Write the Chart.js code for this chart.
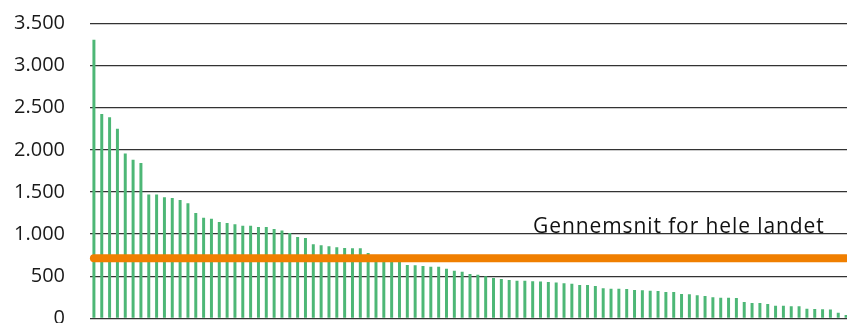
<!DOCTYPE html>
<html>
<head>
<meta charset="utf-8">
<script src="https://cdn.jsdelivr.net/npm/chart.js@4/dist/chart.umd.min.js"></script>
<style>
  html, body { margin: 0; padding: 0; background: #fff; overflow: hidden; }
  canvas { display: block; }
</style>
</head>
<body>
<canvas id="chart" width="852" height="323" style="width:852px;height:323px"></canvas>
<script>
// værdier pr. kommune, sorteret faldende
const kommuner = Array.from({ length: 97 }, (_, i) => 'K' + (i + 1));
const vaerdier = [
  3306, 2427, 2388, 2249, 1956, 1881, 1844, 1469, 1469, 1437,
  1429, 1405, 1366, 1250, 1194, 1182, 1144, 1132, 1117, 1100,
  1100, 1085, 1085, 1059, 1043, 1013, 964, 954, 879, 867,
  855, 843, 835, 831, 831, 774, 752, 730, 708, 680,
  633, 630, 621, 613, 613, 589, 566, 554, 526, 518,
  499, 479, 467, 455, 447, 445, 441, 437, 430, 425,
  415, 410, 394, 394, 382, 356, 352, 352, 348, 336,
  332, 328, 324, 312, 312, 289, 285, 273, 265, 249,
  245, 245, 241, 194, 182, 182, 170, 150, 150, 142,
  142, 114, 110, 107, 103, 67, 39
];
const gennemsnit = 713;
const yTicks = [0, 500, 1000, 1500, 2000, 2500, 3000, 3500];
const labelTekst = 'Gennemsnit for hele landet';

const fmt = (v) => v.toLocaleString('da-DK');

// tekst over gennemsnitslinjen
const labelPlugin = {
  id: 'labelPlugin',
  afterDatasetsDraw(chart) {
    const { ctx, scales: { x, y } } = chart;
    ctx.save();
    ctx.font = '21px "Open Sans"';
    ctx.letterSpacing = '0.9px';
    ctx.fillStyle = '#111';
    ctx.textAlign = 'right';
    ctx.textBaseline = 'alphabetic';
    ctx.fillText(labelTekst, x.getPixelForValue(93) + 2, y.getPixelForValue(1000) - 1);
    ctx.restore();
  }
};

new Chart(document.getElementById('chart'), {
  type: 'bar',
  data: {
    labels: kommuner,
    datasets: [
      {
        type: 'line',
        data: kommuner.map(() => gennemsnit),
        borderColor: '#F07F00',
        borderWidth: 8,
        borderCapStyle: 'round',
        pointRadius: 0,
        order: 0
      },
      {
        data: vaerdier,
        backgroundColor: '#4DB776',
        categoryPercentage: 1,
        barPercentage: 0.38,
        order: 1
      }
    ]
  },
  options: {
    responsive: false,
    animation: false,
    layout: { padding: { top: 23.5, bottom: 4.7, right: 2, left: 0 } },
    plugins: { legend: { display: false }, tooltip: { enabled: false } },
    scales: {
      x: { display: false, offset: true },
      y: {
        min: 0,
        max: 3500,
        afterFit: (s) => { s.width = 90; s.paddingTop = 0; s.paddingBottom = 0; },
        afterBuildTicks: (s) => { s.ticks = yTicks.map(v => ({ value: v })); },
        border: { display: false },
        grid: { color: '#333', lineWidth: 1.2, drawTicks: false },
        ticks: {
          padding: 25,
          color: '#1a1a1a',
          font: { family: 'Open Sans', size: 20 },
          callback: (v) => fmt(v)
        }
      }
    }
  },
  plugins: [labelPlugin]
});
</script>
</body>
</html>
